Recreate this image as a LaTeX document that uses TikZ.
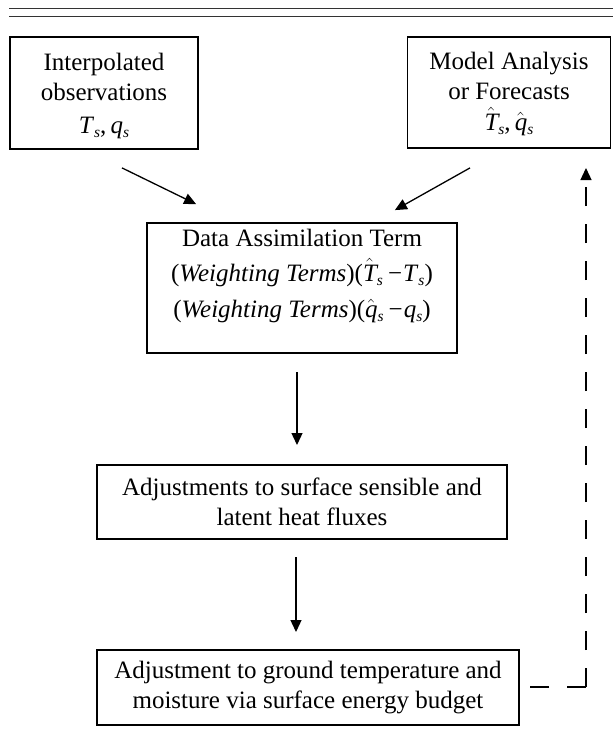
\documentclass[tikz,border=0pt]{standalone}
\usepackage{fontspec}
\setmainfont{Liberation Serif}
\usetikzlibrary{arrows.meta,calc}
\newcommand\subs[1]{\raisebox{-0.35ex}{\fontsize{15.5}{15.5}\selectfont\textit{#1}}}
\newcommand\hatit[1]{$\hat{\hbox{\itshape #1\kern-1pt}}$\kern1pt}
\newcommand\minus{\kern5pt\char"2212\kern1pt}
\begin{document}
\begin{tikzpicture}[x=1pt,y=-1pt,
  txt/.style={align=center,inner sep=0pt,font=\fontsize{25}{30}\selectfont},
  box/.style={draw=black,line width=1.8pt,inner sep=0pt,align=center,
    font=\fontsize{25}{30}\selectfont},
  arr/.style={line width=1.3pt,-{Triangle[length=12pt,width=11pt]}},
  dashline/.style={line width=1.3pt,dash pattern=on 19pt off 18pt}]
\useasboundingbox (0,0) rectangle (613,732);
% top rules
\coordinate (r1a) at (9,8); \coordinate (r1b) at (613,8);
\coordinate (r2a) at (9,16); \coordinate (r2b) at (613,16);
\draw[black!80,line width=1pt] (r1a) -- (r1b);
\draw[black!80,line width=1pt] (r2a) -- (r2b);
% boxes
\node[box,minimum width=188pt,minimum height=112pt] (obs) at (104,93) {};
\node[txt] (obstxt) at (104,96)
  {Interpolated\\observations\\[3pt]\textit{T}\subs{s},\,\textit{q}\subs{s}};
\node[box,minimum width=203pt,minimum height=111pt] (mod) at (509,92.5) {};
\node[txt] (modtxt) at (509,94)
  {Model Analysis\\or Forecasts\\[1pt]\hatit{T}\subs{s},\,\hatit{q}\subs{s}};
\node[box,minimum width=310pt,minimum height=130pt] (da) at (302,288) {};
\node[txt] (datxt) at (302,276)
  {Data Assimilation Term\\[5pt]
   (\textit{Weighting Terms})(\hatit{T}\subs{s}\minus\textit{T}\subs{s})\\[6pt]
   (\textit{Weighting Terms})(\hatit{q}\subs{s}\minus\textit{q}\subs{s})};
\node[box,minimum width=410pt,minimum height=74pt] (adj) at (302,502)
  {Adjustments to surface sensible and\\latent heat fluxes};
\node[box,minimum width=422pt,minimum height=75pt] (gnd) at (308,687.5)
  {Adjustment to ground temperature and\\moisture via surface energy budget};
% connectors
\coordinate (a1s) at ($(obs.south)+(18,18)$);
\coordinate (a1e) at ($(da.north west)+(50,-18)$);
\draw[arr] (a1s) -- (a1e);
\coordinate (a2s) at ($(mod.south)+(-39,19)$);
\coordinate (a2e) at ($(da.north east)+(-63,-12)$);
\draw[arr] (a2s) -- (a2e);
\coordinate (a3s) at (297,372);
\coordinate (a3e) at (297,445);
\draw[arr] (a3s) -- (a3e);
\coordinate (a4s) at (296,557);
\coordinate (a4e) at (296,632);
\draw[arr] (a4s) -- (a4e);
% dashed feedback
\coordinate (fbcorner) at (586,687);
\coordinate (fbstart) at (530,687);
\coordinate (fbtip) at (586,168);
\draw[dashline] (fbcorner) -- (fbstart);
\draw[dashline,-{Triangle[length=12pt,width=11pt]}] (fbcorner) -- (fbtip);
\end{tikzpicture}
\end{document}
